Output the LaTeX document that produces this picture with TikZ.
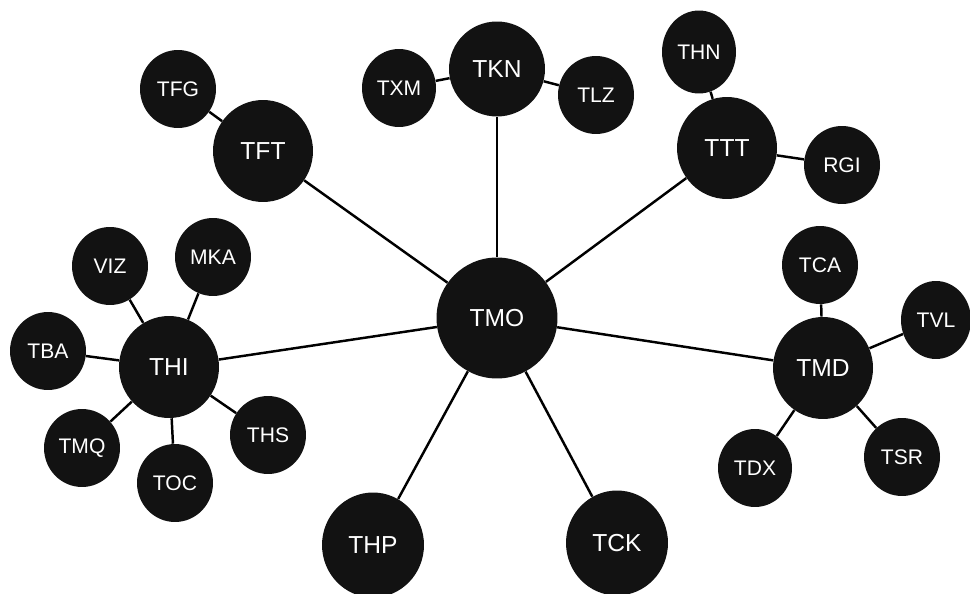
\documentclass[tikz,border=0pt]{standalone}
\usepackage{fontspec}
\setsansfont{Liberation Sans}
\usetikzlibrary{shapes.geometric}

\begin{document}
\begin{tikzpicture}[x=0.02cm,y=-0.02cm,
    stn/.style={ellipse, fill=black!93, text=white, inner sep=0pt, font=\sffamily\fontsize{14}{16}\selectfont},
    hub/.style={stn, minimum width=2cm, minimum height=2.04cm},
    leaf/.style={stn, minimum width=1.52cm, minimum height=1.56cm, font=\sffamily\fontsize{12}{14}\selectfont},
    link/.style={line width=1.4pt}]
        \useasboundingbox (0,0) rectangle (970,594);
        %中心
        \node[stn, minimum width=2.42cm, minimum height=2.42cm] (tmo) at (497,318) {TMO};
        %上の方
        \node[leaf] (tfg) at (178,89) {TFG};
        \node[hub] (tft) at (263,151) {TFT};
        \node[leaf, minimum width=1.48cm] (txm) at (399,88) {TXM};
        \node[stn, minimum width=1.92cm, minimum height=1.9cm] (tkn) at (497,69) {TKN};
        \node[leaf] (tlz) at (596,95) {TLZ};
        \node[leaf, minimum width=1.48cm, minimum height=1.66cm] (thn) at (699,52) {THN};
        \node[hub] (ttt) at (727,148) {TTT};
        \node[leaf] (rgi) at (842,165) {RGI};
        %左
        \node[hub] (thi) at (169,367) {THI};
        \node[leaf] (viz) at (110,266) {VIZ};
        \node[leaf] (mka) at (213,257) {MKA};
        \node[leaf] (tba) at (48,351) {TBA};
        \node[leaf] (tmq) at (82,448) {TMQ};
        \node[leaf] (toc) at (175,483) {TOC};
        \node[leaf] (ths) at (268,435) {THS};
        %下
        \node[stn, minimum width=2.04cm, minimum height=2.1cm] (thp) at (373,545) {THP};
        \node[stn, minimum width=2.04cm, minimum height=2.1cm] (tck) at (617,543) {TCK};
        %右
        \node[hub] (tmd) at (823,368) {TMD};
        \node[leaf] (tca) at (820,265) {TCA};
        \node[leaf, minimum width=1.4cm] (tvl) at (936,320) {TVL};
        \node[leaf, minimum width=1.48cm] (tdx) at (755,468) {TDX};
        \node[leaf] (tsr) at (902,457) {TSR};
        %線
        \draw[link] (tmo)--(tft);
        \draw[link] (tmo)--(tkn);
        \draw[link] (tmo)--(ttt);
        \draw[link] (tmo)--(thi);
        \draw[link] (tmo)--(tmd);
        \draw[link] (tmo)--(thp);
        \draw[link] (tmo)--(tck);
        \draw[link] (tft)--(tfg);
        \draw[link] (tkn)--(txm);
        \draw[link] (tkn)--(tlz);
        \draw[link] (ttt)--(thn);
        \draw[link] (ttt)--(rgi);
        \draw[link] (thi)--(viz);
        \draw[link] (thi)--(mka);
        \draw[link] (thi)--(tba);
        \draw[link] (thi)--(tmq);
        \draw[link] (thi)--(toc);
        \draw[link] (thi)--(ths);
        \draw[link] (tmd)--(tca);
        \draw[link] (tmd)--(tvl);
        \draw[link] (tmd)--(tdx);
        \draw[link] (tmd)--(tsr);
    \end{tikzpicture}
\end{document}
